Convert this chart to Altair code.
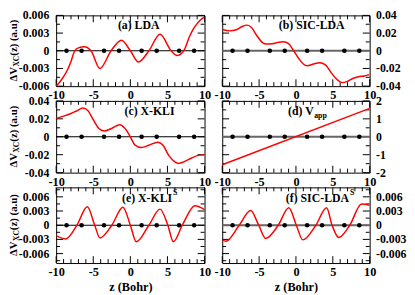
import altair as alt
import pandas as pd

FONT = "Liberation Serif"
RED = "#ff0000"

# ---------------- data ----------------
x_major = [-10, -5, 0, 5, 10]
x_minor = [-9, -8, -7, -6, -4, -3, -2, -1, 1, 2, 3, 4, 6, 7, 8, 9]
atom_z = [-8.6, -6.57, -3.55, -1.52, 1.52, 3.55, 6.57, 8.6]

lda_z = [-10, -9.5, -9, -8.5, -8, -7.5, -7, -6.2, -5.3, -4.1, -2.6, -1.2, 0, 1.1, 2.5, 4.0, 5.5, 6.3, 7.2, 8.0, 8.5, 9.0, 9.5, 10]
lda_v = [-0.006, -0.0053, -0.0044, -0.0033, -0.0018, 0.0, 0.0005, 0.0007, 0.0, -0.003, 0.0, 0.0018, 0.0,
         -0.0019, 0.0, 0.0028, 0.0, -0.0008, 0.0, 0.0025, 0.0037, 0.0046, 0.0053, 0.0057]

sic_z = [-10, -9, -8, -7.3, -6.6, -6, -5.3, -4.5, -4.0, -3.2, -2.4, -1.7, -1.0, -0.3, 0.4, 1.0, 1.5,
         2.4, 3.2, 4.0, 4.8, 5.5, 6.3, 7.0, 7.8, 8.6, 9.3, 10]
sic_v = [0.024, 0.0225, 0.024, 0.0275, 0.029, 0.026, 0.017, 0.009, 0.0076, 0.008, 0.0095, 0.0102, 0.008,
         0.0, -0.009, -0.015, -0.017, -0.015, -0.0135, -0.016, -0.025, -0.032, -0.036, -0.0345, -0.031,
         -0.029, -0.0285, -0.027]

kli_z = [-10, -9, -8, -7.2, -6.4, -5.7, -5, -4.2, -3.5, -2.6, -1.4, -0.8, 0, 0.6, 1.5, 2.5, 3.7, 4.4,
         5.2, 6.0, 6.5, 7.2, 8.2, 9, 10]
kli_v = [0.0205, 0.023, 0.026, 0.029, 0.032, 0.029, 0.019, 0.009, 0.0064, 0.009, 0.0135, 0.010, 0.0,
         -0.009, -0.012, -0.0095, -0.006, -0.0095, -0.021, -0.028, -0.0297, -0.028, -0.024, -0.021, -0.020]

vapp_z = [-10, 10]
vapp_v = [-1.56, 1.58]

klis_z = [-10, -8.7, -7.2, -5.8, -4.8, -4.1, -2.5, -1.0, 0.0, 0.8, 2.5, 4.0, 5.05, 5.8, 7.0, 8.7, 10]
klis_v = [-0.0022, -0.0029, 0.0, 0.0039, 0.0, -0.0027, 0.0, 0.0038, 0.0, -0.0035, 0.0, 0.0034, 0.0,
          -0.0035, 0.0, 0.0041, 0.0033]

sics_z = [-10, -9.5, -7.7, -6.15, -5.05, -4.1, -2.4, -0.97, 0.05, 0.93, 2.7, 4.16, 4.9, 5.8, 7.3, 8.9, 10]
sics_v = [-0.0031, -0.0034, 0.0, 0.0031, 0.0, -0.0028, 0.0, 0.0037, 0.0, -0.0031, 0.0, 0.0037, 0.0,
          -0.0026, 0.0, 0.0045, 0.0042]

small_major = [-0.006, -0.003, 0, 0.003, 0.006]
small_labels = ["-0.006", "-0.003", "0", "0.003", "0.006"]
small_minor = [-0.0045, -0.0015, 0.0015, 0.0045]
wide_minor = [-0.0075, -0.0045, -0.0015, 0.0015, 0.0045, 0.0075]
mid_major = [-0.04, -0.02, 0, 0.02, 0.04]
mid_labels = ["-0.04", "-0.02", "0", "0.02", "0.04"]
mid_minor = [-0.03, -0.01, 0.01, 0.03]
big_major = [-2, -1, 0, 1, 2]
big_labels = ["-2", "-1", "0", "1", "2"]
big_minor = [-1.5, -0.5, 0.5, 1.5]

panel_text = ["(a) LDA", "(b) SIC-LDA", "(c) X-KLI", "(d) V", "(e) X-KLI", "(f) SIC-LDA"]
panel_script = ["", "", "", "app", "S", "S"]
ytitle_parts = ["\u0394V", "XC", "(z) (a.u)"]
xtitle = "z (Bohr)"

W = [151, 150]
H = [72, 73, 77]

specs = [
    (lda_z, lda_v, [-0.006, 0.006], small_major, small_labels, small_minor),
    (sic_z, sic_v, [-0.04, 0.04], mid_major, mid_labels, mid_minor),
    (kli_z, kli_v, [-0.04, 0.04], mid_major, mid_labels, mid_minor),
    (vapp_z, vapp_v, [-2, 2], big_major, big_labels, big_minor),
    (klis_z, klis_v, [-0.008, 0.008], small_major, small_labels, wide_minor),
    (sics_z, sics_v, [-0.008, 0.008], small_major, small_labels, wide_minor),
]

# label positions inside each panel (pixels relative to plot area)
label_pos = [(84, 10, "center"), (91, 10, "center"), (95, 10, "center"),
             (93, 10, "right"), (118, 11, "right"), (129, 11, "right")]

MAJ, MIN = 7, 4


def text_layer(s, x, y, size, align, angle=0):
    kw = dict(font=FONT, fontWeight="bold", fontSize=size, color="black",
              align=align, baseline="middle")
    if angle:
        kw["angle"] = angle
    return alt.Chart(pd.DataFrame({"s": [s]})).mark_text(**kw).encode(
        text="s:N", x=alt.value(x), y=alt.value(y))


def make_panel(i):
    z, v, ydom, ymaj, ylab, ymin = specs[i]
    col, row = i % 2, i // 2
    w, h = W[col], H[row]
    xs = alt.Scale(domain=[-10, 10], nice=False, zero=False)
    ys = alt.Scale(domain=ydom, nice=False, zero=False)

    xaxis = alt.Axis(values=x_major,
                     labelExpr="(datum.value < 0 ? '-' : '') + abs(datum.value)",
                     ticks=False, tickSize=0, domain=False, grid=False,
                     labelFont=FONT, labelFontSize=12.5, labelFontWeight="bold",
                     labelColor="black", labelPadding=3, labelFlush=False,
                     labelOverlap=False, titleFont=FONT, titleFontSize=12.5,
                     titleFontWeight="bold", titleColor="black", titlePadding=2)

    def X(field):
        if row == 2:
            return alt.X(field, scale=xs, axis=xaxis, title=xtitle)
        return alt.X(field, scale=xs, axis=xaxis, title=None)

    def Y(field):
        return alt.Y(field, scale=ys, axis=None)

    layers = []

    def xt(vals, y0, y1):
        return alt.Chart(pd.DataFrame({"z": vals})).mark_rule(color="black", strokeWidth=1).encode(
            x=X("z:Q"), y=alt.value(y0), y2=alt.value(y1))

    def yt(vals, x0, x1):
        return alt.Chart(pd.DataFrame({"v": vals})).mark_rule(color="black", strokeWidth=1).encode(
            y=Y("v:Q"), x=alt.value(x0), x2=alt.value(x1))

    layers += [xt(x_major, h, h - MAJ), xt(x_minor, h, h - MIN),
               xt(x_major, 0, MAJ), xt(x_minor, 0, MIN),
               yt(ymaj, 0, MAJ), yt(ymin, 0, MIN),
               yt(ymaj, w, w - MAJ), yt(ymin, w, w - MIN)]

    # y tick labels
    if col == 0:
        lab_x, lab_align = -7, "right"
    else:
        lab_x, lab_align = w + 6.5, "left"
    layers.append(alt.Chart(pd.DataFrame({"v": ymaj, "lab": ylab})).mark_text(
        font=FONT, fontWeight="bold", fontSize=12, color="black", align=lab_align,
        baseline="middle").encode(y=Y("v:Q"), x=alt.value(lab_x), text="lab:N"))

    zc, zw = ("black", 1.2) if col == 0 else ("#666666", 2)
    layers.append(alt.Chart(pd.DataFrame({"v": [0.0]})).mark_rule(color=zc, strokeWidth=zw).encode(
        y=Y("v:Q")))

    layers.append(alt.Chart(pd.DataFrame({"z": atom_z, "v": [0.0] * len(atom_z)})).mark_circle(
        color="black", size=22, opacity=1).encode(x=X("z:Q"), y=Y("v:Q")))

    layers.append(alt.Chart(pd.DataFrame({"z": z, "v": v})).mark_line(
        color=RED, strokeWidth=1.5, interpolate="monotone", clip=True).encode(
        x=X("z:Q"), y=Y("v:Q")))

    lx, ly, la = label_pos[i]
    layers.append(text_layer(panel_text[i], lx, ly, 12, la))
    if panel_script[i] == "app":
        layers.append(text_layer(panel_script[i], lx + 0.5, ly + 5, 8, "left"))
    elif panel_script[i]:
        layers.append(text_layer(panel_script[i], lx + 1, ly - 5, 8, "left"))

    if col == 0:
        a1 = h / 2 + 16.5
        layers.append(text_layer(ytitle_parts[0], -43, a1, 11, "right", 270))
        layers.append(text_layer(ytitle_parts[1], -40, a1 - 0.5, 7.5, "left", 270))
        layers.append(text_layer(ytitle_parts[2], -43, a1 - 11.5, 11, "left", 270))

    return alt.layer(*layers).properties(width=w, height=h)


panels = [make_panel(i) for i in range(6)]

chart = alt.concat(*panels, columns=2, spacing={"row": 15, "column": 18}, bounds="flush").properties(
    padding={"left": -1, "right": 0, "top": -2, "bottom": 0}
).configure_view(stroke="black", strokeWidth=1)

chart.save("out.html", embed_options={"renderer": "svg", "actions": False})
